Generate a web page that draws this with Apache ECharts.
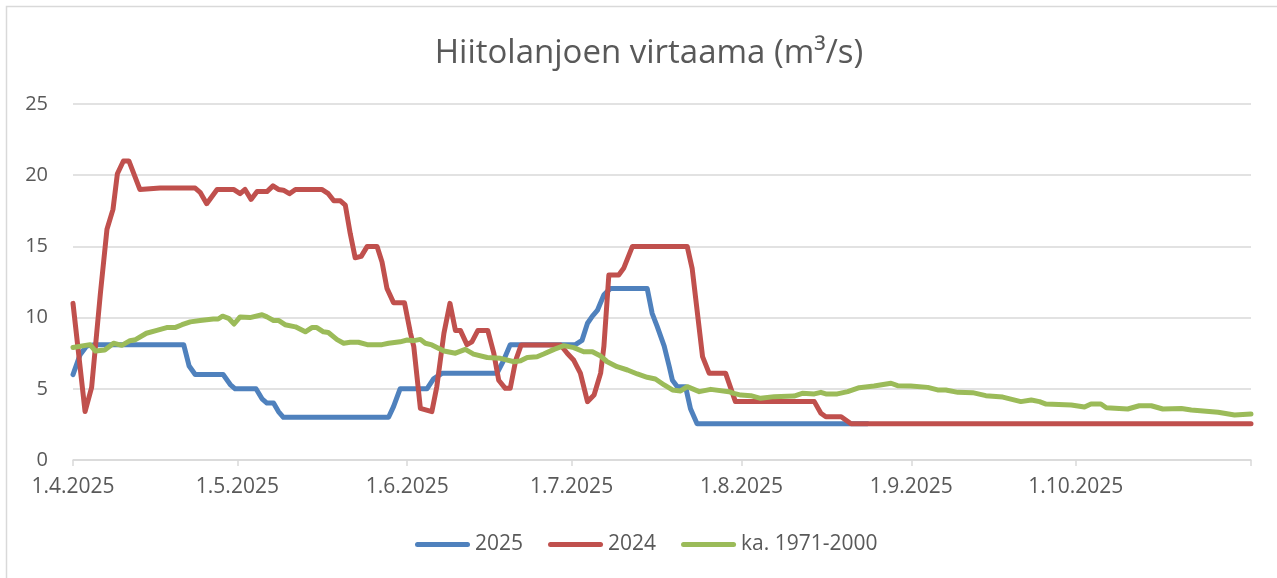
<!DOCTYPE html>
<html>
<head>
<meta charset="utf-8">
<script src="https://cdn.jsdelivr.net/npm/echarts@6.0.0/dist/echarts.min.js"></script>
<style>
  html, body { margin: 0; padding: 0; background: #fff; }
  #chart { width: 1277px; height: 578px; }
</style>
</head>
<body>
<div id="chart"></div>
<script>
// päivät laskettu 1.4.2025 alkaen
const tickDays = [0, 30, 61, 91, 122, 153, 183, 215];
const tickLabels = ['1.4.2025', '1.5.2025', '1.6.2025', '1.7.2025', '1.8.2025', '1.9.2025', '1.10.2025'];
const seriesNames = ['2025', '2024', 'ka. 1971-2000'];

const flow2025 = [[0,6.0],[1.3,7.4],[2.5,8.0],[4,8.1],[20.2,8.1],[21.2,6.6],[22.3,6.0],[27.4,6.0],[28.7,5.3],[29.6,5.0],
  [33.4,5.0],[34.5,4.3],[35.4,4.0],[36.6,4.0],[37.5,3.4],[38.4,3.0],[57.6,3.0],[58.5,3.75],[59.7,5.0],[64.6,5.0],
  [65.8,5.7],[67.4,6.1],[77.4,6.1],[78.6,7.0],[79.8,8.1],[91.7,8.1],[92.9,8.4],[93.9,9.6],[94.8,10.1],[95.7,10.5],
  [96.9,11.6],[98.1,12.05],[104.8,12.05],[105.7,10.3],[106.6,9.4],[107.9,8.0],[108.8,6.6],[109.4,5.6],[110.3,5.15],
  [111.8,5.15],[112.7,3.6],[113.9,2.55],[145,2.55]];

const flow2024 = [[0,11.0],[2.2,3.4],[3.4,5.1],[5.0,11.7],[6.2,16.2],[7.3,17.6],[8.1,20.1],[9.2,21],[10.2,21],[12.2,19],
  [15.9,19.1],[22.3,19.1],[23.2,18.8],[24.4,18],[26.3,19],[29.3,19],[30.5,18.7],[31.4,19],[32.5,18.3],[33.6,18.85],
  [35.4,18.85],[36.5,19.25],[37.5,19],[38.4,18.95],[39.5,18.7],[40.6,19],[45.4,19],[46.6,18.7],[47.6,18.2],[48.8,18.2],
  [49.7,17.9],[50.6,15.9],[51.5,14.2],[52.6,14.3],[53.7,15],[55.5,15],[56.4,13.9],[57.3,12.05],[58.5,11.05],[60.5,11.05],
  [61.6,8.9],[62.2,7.96],[63.4,3.63],[65.5,3.4],[66.4,5.15],[67.7,8.9],[68.8,11],[69.8,9.1],[70.7,9.1],[71.9,8.1],
  [72.8,8.3],[73.9,9.1],[75.7,9.1],[76.8,7.5],[77.7,5.6],[78.9,5.03],[79.8,5.03],[80.8,7],[81.8,8.08],[89,8.08],
  [90.2,7.5],[91.4,7],[92.6,6.1],[93.9,4.1],[95.1,4.56],[96.3,6.1],[96.9,8],[97.8,13],[99.6,13],[100.5,13.46],
  [102.1,15],[112.1,15],[113,13.46],[114.9,7.26],[116.1,6.1],[119.1,6.1],[120.9,4.1],[135.3,4.1],[136.5,3.28],
  [137.4,3.04],[140.2,3.04],[142,2.55],[215,2.55]];

const avg7100 = [[0,7.9],[3.1,8.1],[4.1,7.65],[5.8,7.72],[7.4,8.2],[8.9,8.05],[10.4,8.38],[11.4,8.45],[13.4,8.9],[15.3,9.1],
  [17.1,9.3],[18.6,9.3],[19.9,9.5],[21.4,9.7],[23.2,9.8],[25.6,9.9],[26.5,9.9],[27.3,10.1],[28.4,9.95],[29.4,9.55],
  [30.5,10.05],[32.3,10.0],[34.5,10.2],[35.4,10.05],[36.6,9.8],[37.5,9.8],[38.7,9.5],[40.6,9.35],[42.4,9.0],[43.6,9.3],
  [44.5,9.3],[45.7,9.0],[46.6,8.95],[48.2,8.45],[49.4,8.2],[50.6,8.27],[52.1,8.27],[53.7,8.1],[56.4,8.1],[57.6,8.2],
  [59.7,8.3],[61,8.43],[62.2,8.38],[63.4,8.47],[64.3,8.2],[65.5,8.08],[67.7,7.65],[69.8,7.5],[71.6,7.77],[73.1,7.44],
  [75.6,7.2],[78,7.14],[80.5,6.9],[81.7,6.97],[82.9,7.2],[84.7,7.25],[85.9,7.44],[87.8,7.77],[89.6,8.03],[91.4,7.89],
  [93.2,7.6],[94.8,7.6],[96.3,7.3],[97.5,6.9],[99.3,6.55],[101.2,6.32],[103,6.04],[104.8,5.81],[106.3,5.69],[107.9,5.27],
  [109.4,4.92],[110.9,4.85],[112.1,5.15],[114.3,4.8],[116.4,4.96],[119.7,4.8],[120.6,4.68],[121.9,4.56],[123.7,4.52],
  [125.5,4.33],[128,4.45],[131.6,4.49],[133.1,4.68],[135.3,4.64],[136.5,4.75],[137.4,4.64],[139.5,4.64],[141.4,4.8],
  [143.5,5.08],[146.2,5.2],[149.3,5.39],[150.5,5.22],[152.9,5.2],[156,5.1],[157.8,4.92],[159.3,4.92],[161.5,4.75],
  [164.2,4.73],[166.6,4.52],[169.7,4.42],[173,4.1],[174.9,4.21],[176.4,4.1],[177.6,3.93],[182.2,3.86],[184.6,3.72],
  [185.8,3.93],[187.6,3.93],[188.6,3.67],[192.5,3.58],[194.6,3.81],[196.8,3.81],[198.9,3.58],[202.3,3.62],[204.1,3.51],
  [209,3.35],[212,3.16],[215,3.23]];

const colors = ['#4f81bd', '#c0504d', '#9bbb59'];
const textColor = '#595959';
const gridColor = '#d9d9d9';
const font = '"Open Sans", "Liberation Sans", sans-serif';

const lineSeries = (name, data, color) => ({
  name,
  type: 'line',
  data,
  symbol: 'none',
  showSymbol: false,
  color,
  lineStyle: { width: 5, color, cap: 'round', join: 'round' }
});

const chart = echarts.init(document.getElementById('chart'));
chart.setOption({
  animation: false,
  backgroundColor: '#fff',
  textStyle: { fontFamily: font },
  graphic: [{
    type: 'rect',
    shape: { x: 6.5, y: 6.5, width: 1300, height: 620 },
    style: { fill: 'none', stroke: gridColor, lineWidth: 1.5 },
    silent: true
  }],
  title: {
    text: 'Hiitolanjoen virtaama (m³/s)',
    left: 644,
    textAlign: 'center',
    top: 32,
    textStyle: { fontFamily: font, fontSize: 33, fontWeight: 'normal', color: textColor }
  },
  legend: {
    left: 415,
    top: 534,
    padding: 0,
    itemWidth: 55,
    itemHeight: 5,
    itemGap: 25,
    icon: 'path://M2.5,0 L52.5,0 A2.5,2.5 0 0 1 52.5,5 L2.5,5 A2.5,2.5 0 0 1 2.5,0 Z',
    textStyle: { fontFamily: font, fontSize: 21, color: textColor },
    data: seriesNames
  },
  grid: { left: 73, right: 26, top: 104, bottom: 118, containLabel: false },
  xAxis: {
    type: 'value',
    min: 0,
    max: 215,
    axisLine: { show: true, lineStyle: { color: gridColor, width: 1.5 } },
    axisTick: { show: true, length: 6, customValues: tickDays, lineStyle: { color: gridColor, width: 1.5 } },
    axisLabel: {
      customValues: tickDays.slice(0, tickLabels.length),
      formatter: v => tickLabels[tickDays.indexOf(v)] || '',
      fontSize: 21,
      color: textColor,
      margin: 17,
      fontFamily: font
    },
    splitLine: { show: false }
  },
  yAxis: {
    type: 'value',
    min: 0,
    max: 25,
    interval: 5,
    axisLine: { show: false },
    axisTick: { show: false },
    axisLabel: { fontSize: 20, color: textColor, margin: 25, fontFamily: font },
    splitLine: { lineStyle: { color: gridColor, width: 1.5 } }
  },
  series: [
    lineSeries(seriesNames[0], flow2025, colors[0]),
    lineSeries(seriesNames[1], flow2024, colors[1]),
    lineSeries(seriesNames[2], avg7100, colors[2])
  ]
});
</script>
</body>
</html>
